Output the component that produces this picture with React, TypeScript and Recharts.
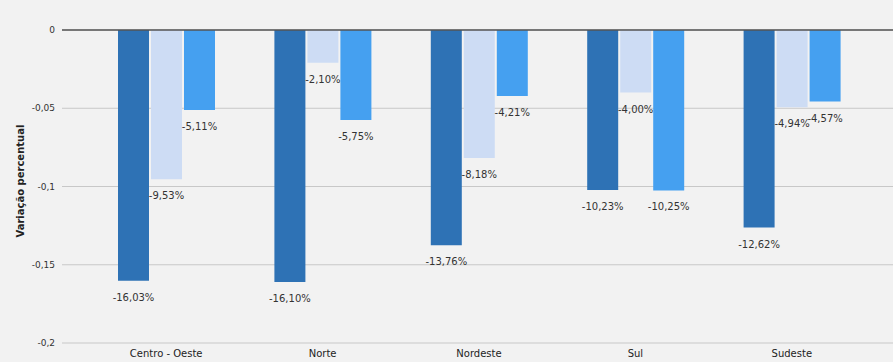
import { BarChart, Bar, XAxis, YAxis, CartesianGrid, ReferenceLine, LabelList } from 'recharts';

const categories = ['Centro - Oeste', 'Norte', 'Nordeste', 'Sul', 'Sudeste'];
const serieA = [-0.1603, -0.161, -0.1376, -0.1023, -0.1262];
const serieB = [-0.0953, -0.021, -0.0818, -0.04, -0.0494];
const serieC = [-0.0511, -0.0575, -0.0421, -0.1025, -0.0457];
const yTicks = [0, -0.05, -0.1, -0.15, -0.2];

const data = categories.map((name, i) => ({
  name,
  a: serieA[i],
  b: serieB[i],
  c: serieC[i],
}));

const fmtTick = (v: number) => (v === 0 ? '0' : String(v).replace('.', ','));
const fmtPct = (v: number) => `${(v * 100).toFixed(2).replace('.', ',')}%`;

// label sits under the end of the (negative) bar
const renderLabel = (props: any) => {
  const { x, y, width, height, value } = props;
  const bottom = Math.max(y, y + height);
  return (
    <text
      x={x + width / 2}
      y={bottom + 17}
      textAnchor="middle"
      dominantBaseline="middle"
      fontSize={10}
      fill="#333"
      fontFamily="DejaVu Sans, sans-serif"
    >
      {fmtPct(value)}
    </text>
  );
};

export default function App() {
  return (
    <div style={{ position: 'fixed', left: 0, top: 0, width: 893, height: 362, background: '#f2f2f2' }}>
      <BarChart
        width={893}
        height={362}
        data={data}
        margin={{ top: 30, right: 0, bottom: 0, left: 0 }}
        barSize={31}
        barGap={2}
      >
        <CartesianGrid vertical={false} stroke="#c8c8c8" />
        <XAxis
          dataKey="name"
          height={19}
          axisLine={false}
          tickLine={false}
          padding={{ left: 26, right: 23 }}
          tick={{ fontSize: 10, fill: '#222', fontFamily: 'DejaVu Sans, sans-serif' }}
          tickMargin={1}
          interval={0}
        />
        <YAxis
          width={62}
          domain={[-0.2, 0]}
          ticks={yTicks}
          tickFormatter={fmtTick}
          axisLine={false}
          tickLine={false}
          tickMargin={1}
          tick={{ fontSize: 9, fill: '#333', fontFamily: 'DejaVu Sans, sans-serif' }}
          label={{
            value: 'Variação percentual',
            angle: -90,
            position: 'insideLeft',
            dx: 15,
            dy: 51,
            style: { fontSize: 10, fontWeight: 'bold', fill: '#222', fontFamily: 'DejaVu Sans, sans-serif' },
          }}
        />
        <ReferenceLine y={0} stroke="#555" strokeWidth={1.5} />
        <Bar dataKey="a" fill="#2e72b5" isAnimationActive={false}>
          <LabelList dataKey="a" content={renderLabel} />
        </Bar>
        <Bar dataKey="b" fill="#cddcf4" isAnimationActive={false}>
          <LabelList dataKey="b" content={renderLabel} />
        </Bar>
        <Bar dataKey="c" fill="#45a0f0" isAnimationActive={false}>
          <LabelList dataKey="c" content={renderLabel} />
        </Bar>
      </BarChart>
    </div>
  );
}
